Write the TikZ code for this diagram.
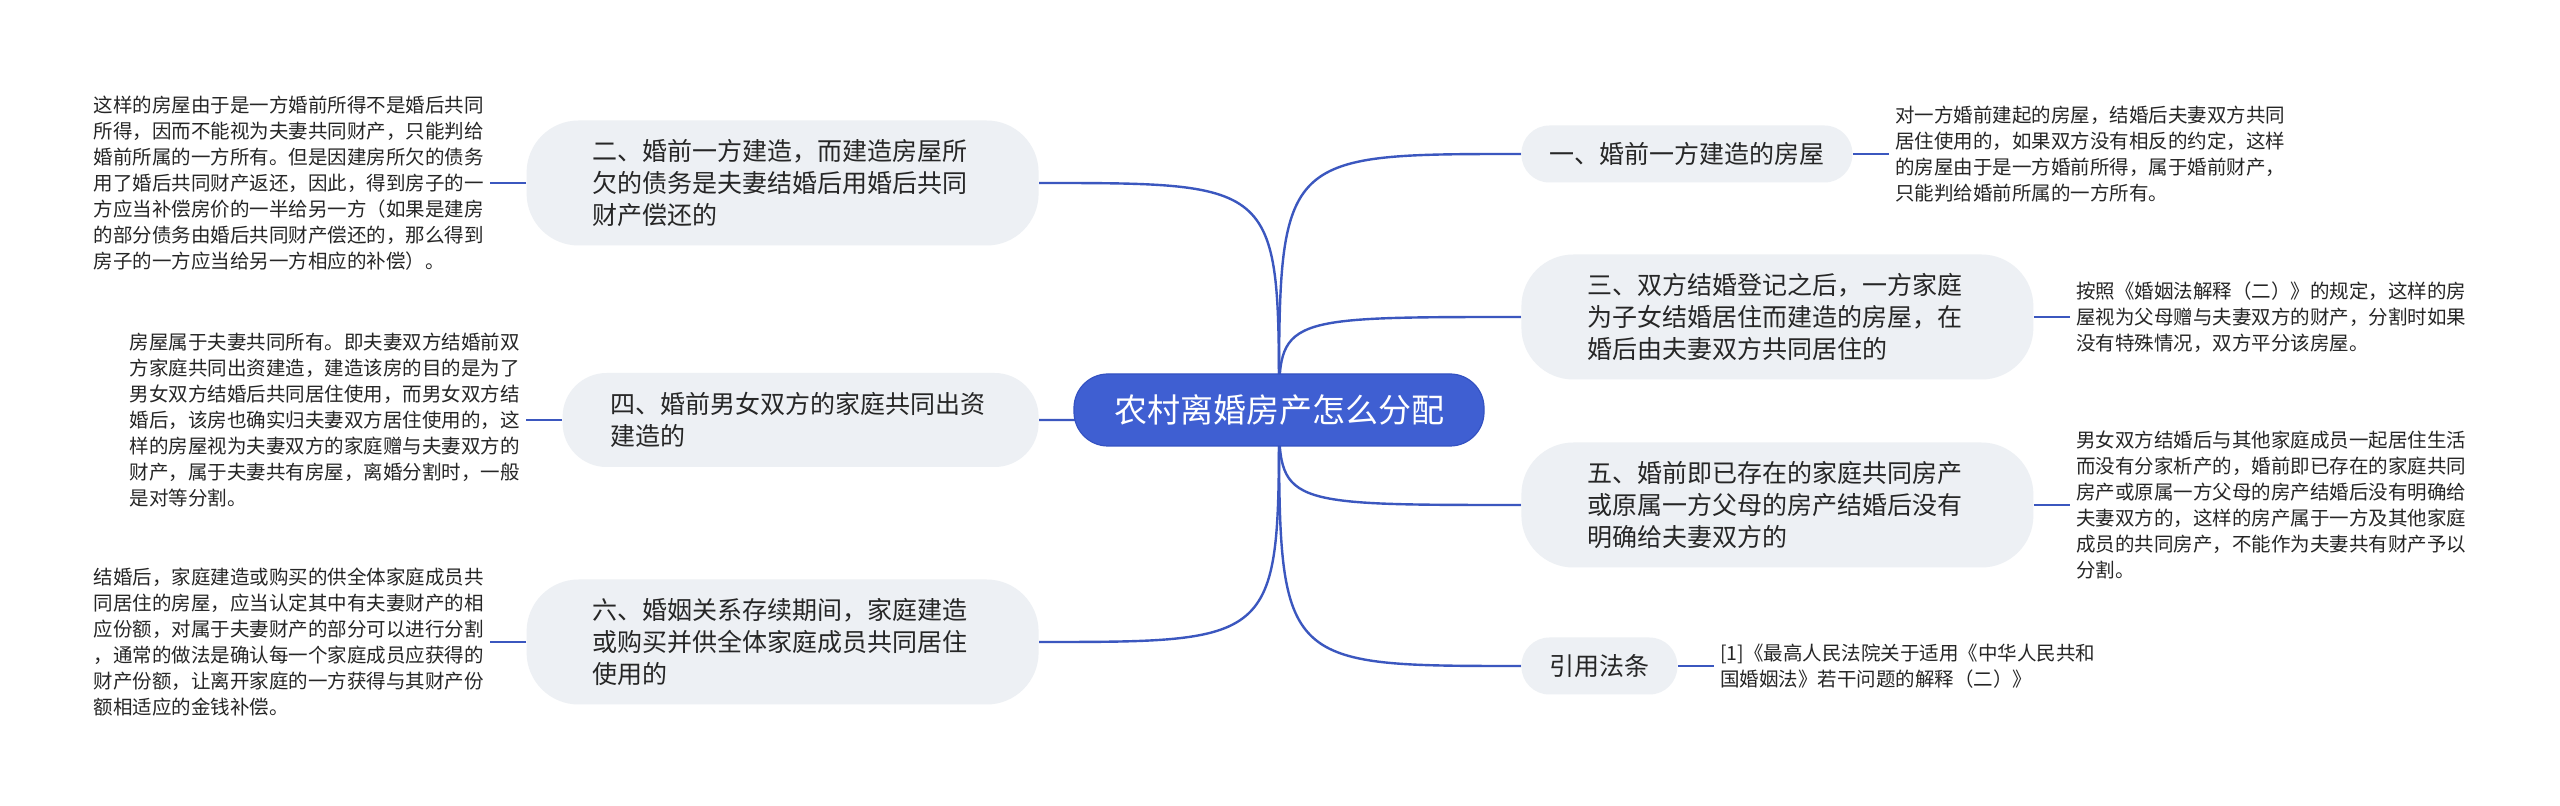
\documentclass[tikz,border=0pt]{standalone}
\usepackage{fontspec}
\newfontfamily\cjk{Noto Sans CJK SC}
\usetikzlibrary{positioning,calc,backgrounds}
\definecolor{paper}{HTML}{FFFFFF}
\definecolor{ink}{HTML}{262626}
\definecolor{topicfill}{HTML}{3F5FD2}
\definecolor{topicline}{HTML}{3452C2}
\definecolor{subfill}{HTML}{EDF0F4}
\definecolor{wire}{HTML}{3B57BF}
\newcommand{\HubX}{1279}
\newcommand{\HubY}{410}
\newcommand{\RightX}{1521}
\newcommand{\LeftX}{1039}

\begin{document}
\begin{tikzpicture}[
    x=0.5pt, y=-0.5pt,
    font=\cjk, ink,
    topic/.style={draw=topicline, line width=0.6pt, fill=topicfill, rounded corners=17pt, text=white, minimum height=36pt, inner xsep=20pt, font=\cjk\fontsize{16.5pt}{20pt}\selectfont},
    sub/.style={fill=subfill, rounded corners=14pt, inner xsep=14pt, inner ysep=0pt, font=\cjk\fontsize{12.5pt}{16pt}\selectfont},
    subwide/.style={sub, rounded corners=26pt, text width=190pt, align=left, inner xsep=33pt},
    subtwo/.style={subwide, rounded corners=22pt, inner xsep=24pt},
    note/.style={align=left, inner xsep=3pt, inner ysep=2pt, font=\cjk\fontsize{9.75pt}{13pt}\selectfont},
    branch/.style={draw=wire, line width=1.2pt},
    twig/.style={draw=wire, line width=1.2pt},
  ]

% --- Canvas ------------------------------------------------------------------
\begin{scope}[on background layer]
  \fill[paper] (0,0) rectangle (2560,806);
\end{scope}
\useasboundingbox (0,0) rectangle (2560,806);

% --- Root topic ----------------------------------------------------------------
\node[topic] (root) at (\HubX, \HubY) {农村离婚房产怎么分配};

% --- Right-hand branches, each with its note ---------------------------------
\foreach \i/\y/\w/\h/\txt/\note in {
  1/154/sub/28.5/{一、婚前一方建造的房屋}/{对一方婚前建起的房屋，结婚后夫妻双方共同\\居住使用的，如果双方没有相反的约定，这样\\的房屋由于是一方婚前所得，属于婚前财产，\\只能判给婚前所属的一方所有。},
  3/317/subwide/62.5/{三、双方结婚登记之后，一方家庭\\为子女结婚居住而建造的房屋，在\\婚后由夫妻双方共同居住的}/{按照《婚姻法解释（二）》的规定，这样的房\\屋视为父母赠与夫妻双方的财产，分割时如果\\没有特殊情况，双方平分该房屋。},
  5/505/subwide/62.5/{五、婚前即已存在的家庭共同房产\\或原属一方父母的房产结婚后没有\\明确给夫妻双方的}/{男女双方结婚后与其他家庭成员一起居住生活\\而没有分家析产的，婚前即已存在的家庭共同\\房产或原属一方父母的房产结婚后没有明确给\\夫妻双方的，这样的房产属于一方及其他家庭\\成员的共同房产，不能作为夫妻共有财产予以\\分割。},
  7/666/sub/28.5/{引用法条}/{[1]《最高人民法院关于适用《中华人民共和\\国婚姻法》若干问题的解释（二）》}} {
  \node[\w, minimum height=\h pt, anchor=west] (b\i) at (\RightX, \y) {\txt};
  \node[note, right=18pt of b\i] (n\i) {\note};
  \draw[twig] (b\i) -- (n\i);
  \begin{scope}[on background layer]
    \draw[branch] (root.center) .. controls (root.center |- b\i.west) .. (b\i.west);
  \end{scope}
}

% --- Left-hand branches --------------------------------------------------------
\foreach \i/\y/\w/\h/\txt/\note in {
  2/183/subwide/62.5/{二、婚前一方建造，而建造房屋所\\欠的债务是夫妻结婚后用婚后共同\\财产偿还的}/{这样的房屋由于是一方婚前所得不是婚后共同\\所得，因而不能视为夫妻共同财产，只能判给\\婚前所属的一方所有。但是因建房所欠的债务\\用了婚后共同财产返还，因此，得到房子的一\\方应当补偿房价的一半给另一方（如果是建房\\的部分债务由婚后共同财产偿还的，那么得到\\房子的一方应当给另一方相应的补偿）。},
  4/420/subtwo/47/{四、婚前男女双方的家庭共同出资\\建造的}/{房屋属于夫妻共同所有。即夫妻双方结婚前双\\方家庭共同出资建造，建造该房的目的是为了\\男女双方结婚后共同居住使用，而男女双方结\\婚后，该房也确实归夫妻双方居住使用的，这\\样的房屋视为夫妻双方的家庭赠与夫妻双方的\\财产，属于夫妻共有房屋，离婚分割时，一般\\是对等分割。},
  6/642/subwide/62.5/{六、婚姻关系存续期间，家庭建造\\或购买并供全体家庭成员共同居住\\使用的}/{结婚后，家庭建造或购买的供全体家庭成员共\\同居住的房屋，应当认定其中有夫妻财产的相\\应份额，对属于夫妻财产的部分可以进行分割\\，通常的做法是确认每一个家庭成员应获得的\\财产份额，让离开家庭的一方获得与其财产份\\额相适应的金钱补偿。}} {
  \node[\w, minimum height=\h pt, anchor=east] (b\i) at (\LeftX, \y) {\txt};
  \node[note, left=18pt of b\i] (n\i) {\note};
  \draw[twig] (b\i) -- (n\i);
  \begin{scope}[on background layer]
    \draw[branch] (root.center) .. controls (root.center |- b\i.east) .. (b\i.east);
  \end{scope}
}

\end{tikzpicture}
\end{document}
